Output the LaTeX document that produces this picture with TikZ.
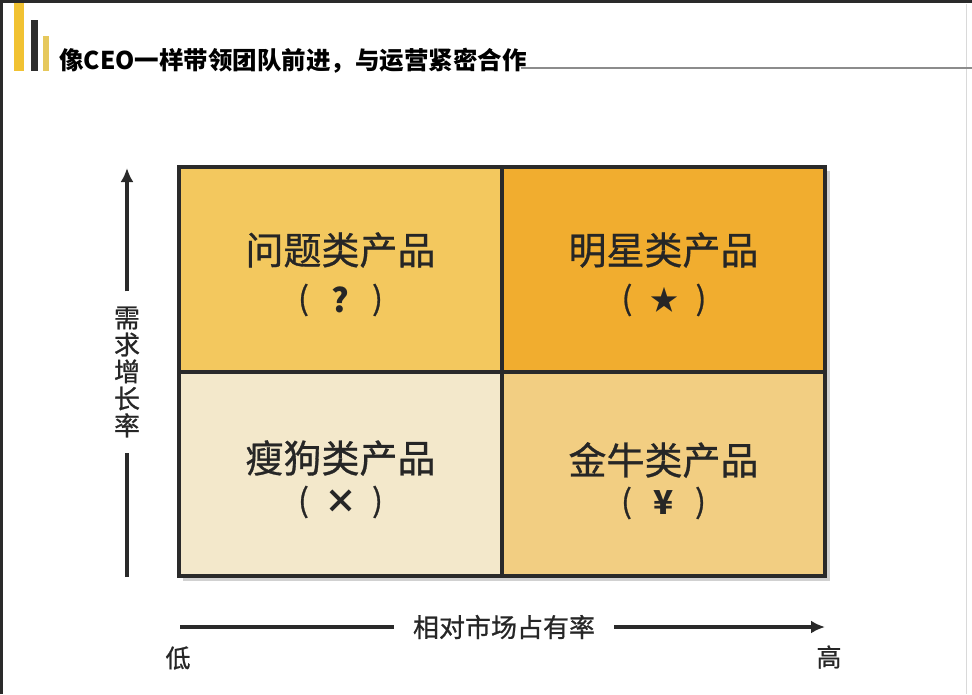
\documentclass[tikz,border=0pt]{standalone}
\usepackage{fontspec}
\setmainfont{Noto Sans CJK SC}
\newfontfamily\medfont{Noto Sans CJK SC}[FakeBold=0.8]
\usetikzlibrary{arrows.meta}
\definecolor{cTL}{HTML}{F3C85E}
\definecolor{cTR}{HTML}{F1AD2F}
\definecolor{cBL}{HTML}{F3E8CB}
\definecolor{cBR}{HTML}{F2CE82}
\definecolor{ink}{HTML}{2A2A2A}
\definecolor{txt}{HTML}{262626}
\definecolor{barY}{HTML}{F1C232}
\definecolor{barD}{HTML}{2E2E2E}
\definecolor{barL}{HTML}{E6C85C}
\newcommand\symrow[4]{%
  \node[parstyle] (#1l) at (#2-37,#3) {(};
  \node[symstyle] (#1s) at (#2,#3) {#4};
  \node[parstyle] (#1r) at (#2+37,#3) {)};
}
\begin{document}
\begin{tikzpicture}[x=1pt,y=-1pt,
  cell/.style={draw=ink, line width=4pt, inner sep=0pt, outer sep=0pt},
  qlabel/.style={text=txt, inner sep=0pt, font=\medfont\fontsize{38}{40}\selectfont},
  parstyle/.style={text=txt, inner sep=0pt, font=\medfont\fontsize{32}{34}\selectfont},
  symstyle/.style={text=txt, inner sep=0pt, font=\bfseries\fontsize{33}{35}\selectfont},
  axis/.style={draw=ink, line width=4pt},
  axtip/.style={-{Latex[length=14pt,width=13pt]}},
  axlabel/.style={text=txt, font=\medfont\fontsize{26}{27}\selectfont},
  endlabel/.style={text=txt, inner sep=0pt, font=\medfont\fontsize{25}{26}\selectfont}]
\useasboundingbox (0,0) rectangle (972,694);
\fill[white] (0,0) rectangle (972,694);
% frame
\draw[ink, line width=3pt] (1.5,694) -- (1.5,1.5) -- (972,1.5);
\draw[black!15, line width=1pt] (966,4) -- (966,694);
% title bars
\fill[barY] (14,3) rectangle (24,71);
\fill[barD] (31,20) rectangle (38,71);
\fill[barL] (43,36) rectangle (49,71);
\node[anchor=base west, inner sep=0pt, font=\bfseries\fontsize{24.5}{26}\selectfont] (title) at (59,69) {像CEO一样带领团队前进，与运营紧密合作};
\coordinate (rulestart) at ([xshift=-6pt]title.base east);
\coordinate (ruleend) at (972,68);
\draw[black!45, line width=1.2pt] (rulestart |- ruleend) -- (ruleend);
% shadow
\fill[black!18] (183,171) rectangle (830,581);
% cells
\node[cell, fill=cTL, minimum width=323pt, minimum height=205pt] (tl) at (340.5,269.5) {};
\node[cell, fill=cTR, minimum width=323pt, minimum height=205pt] (tr) at (663.5,269.5) {};
\node[cell, fill=cBL, minimum width=323pt, minimum height=204pt] (bl) at (340.5,474) {};
\node[cell, fill=cBR, minimum width=323pt, minimum height=204pt] (br) at (663.5,474) {};
% labels
\node[qlabel] (tlt) at (340.5,250) {问题类产品};
\node[qlabel] (trt) at (663.5,250) {明星类产品};
\node[qlabel] (blt) at (340.5,458) {瘦狗类产品};
\node[qlabel] (brt) at (663.5,460) {金牛类产品};
\symrow{tlp}{340.5}{300}{?}
\symrow{trp}{664}{300}{\fontsize{28}{30}\selectfont ★}
\symrow{blp}{340.5}{502}{×}
\symrow{brp}{663.5}{503}{¥}
% vertical axis
\node[axlabel, align=center, inner xsep=0pt, inner ysep=15pt] (vlab) at (127,372) {需\\求\\增\\长\\率};
\coordinate (vbot) at (127,577);
\coordinate (vtop) at (127,168);
\draw[axis] (vbot) -- (vlab.south);
\draw[axis, axtip] (vlab.north) -- (vtop);
% horizontal axis
\node[axlabel, inner xsep=19pt, inner ysep=0pt] (hlab) at (504,627) {相对市场占有率};
\coordinate (hleft) at (180,627);
\coordinate (hright) at (825,627);
\draw[axis] (hleft) -- (hlab.west);
\draw[axis, axtip] (hlab.east) -- (hright);
\node[endlabel] (low) at (178,658) {低};
\node[endlabel] (high) at (829,657) {高};
\end{tikzpicture}
\end{document}
